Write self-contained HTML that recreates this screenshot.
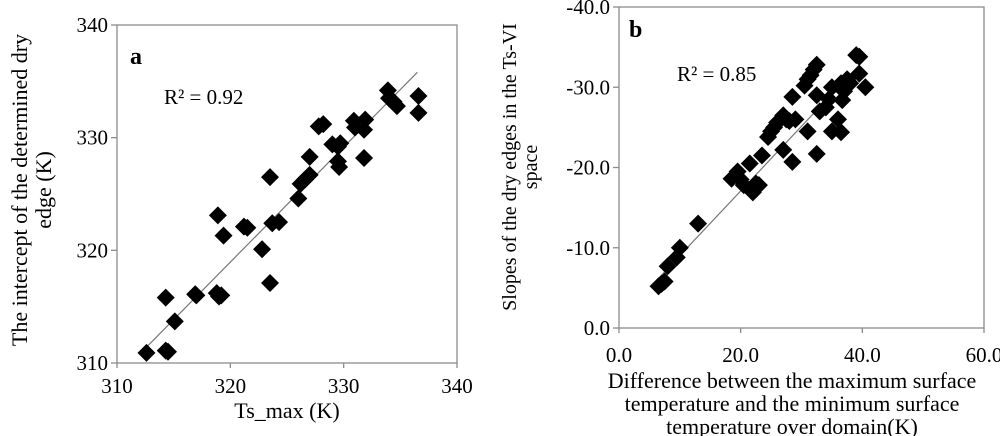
<!DOCTYPE html>
<html><head><meta charset="utf-8"><style>
body{margin:0;background:#fff}
svg{display:block;font-family:"Liberation Serif",serif}
</style></head><body>
<svg id="chart" width="1000" height="436" viewBox="0 0 1000 436" xmlns="http://www.w3.org/2000/svg">
<g id="pa"></g>
<g id="pb"></g>
</svg>
<script>
const aX=[312.6,314.3,314.5,314.3,315.1,316.9,317,318.8,319,319.2,318.9,319.4,321.2,321.5,322.8,323.5,323.5,323.7,324.3,326,326.2,326.6,327,327,327.8,328.2,329,329.5,329.7,329.5,329.6,330.9,331,331.9,331.8,331.8,333.9,334,334.4,334.7,336.6,336.6];
const aY=[310.9,311.1,311,315.8,313.7,316.1,316,316.2,315.9,316,323.1,321.3,322.1,322,320.1,326.5,317.1,322.4,322.5,324.6,325.9,326.3,326.7,328.3,331,331.2,329.4,329.2,329.5,327.9,327.4,331.5,330.9,331.6,330.7,328.2,334.2,333.5,333.2,332.8,333.7,332.2];
const aTrendX=[312.6,336.5];
const aTrendY=[311.4,335.8];
const aXTicks=[310,320,330,340];
const aYTicks=[310,320,330,340];
const bX=[6.5,7,7.5,8,9.5,10,13,18.5,19.5,20,20.5,21.5,22,22.5,23,23.5,24.5,25,25.5,26,27,27.5,28,28.5,27,28.5,29,30.5,31,31.5,32,32.5,32.5,31,32.5,33,34,34.5,35,35,36,36.5,36.5,37,37.5,38,39,39.5,39.5,40.5,36.7];
const bY=[-5.2,-5.5,-5.8,-7.7,-8.8,-10,-13,-18.6,-19.5,-18.5,-17.8,-20.5,-16.9,-18,-17.8,-21.5,-23.8,-24.5,-25,-25.6,-26.5,-26,-25.8,-28.8,-22.2,-20.7,-26,-30.2,-31,-31.5,-32.2,-32.8,-29,-24.5,-21.7,-27,-27.5,-28.5,-30,-24.5,-26,-24.4,-30.5,-29.5,-31,-30.5,-34,-33.8,-31.7,-30,-28.4];
const bTrendX=[6.25,40.5];
const bTrendY=[-6.0,-33.6];
const bXTicks=[0,20,40,60];
const bXLabels=["0.0","20.0","40.0","60.0"];
const bYTicks=[0,-10,-20,-30,-40];
const bYLabels=["0.0","-10.0","-20.0","-30.0","-40.0"];

const NS="http://www.w3.org/2000/svg";
function mk(p,t,a){const e=document.createElementNS(NS,t);for(const k in a)e.setAttribute(k,a[k]);p.appendChild(e);return e;}
function txt(p,x,y,s,size,anchor,extra){const e=mk(p,'text',Object.assign({x:x,y:y,'font-size':size,'text-anchor':anchor||'middle',fill:'#000'},extra||{}));e.textContent=s;return e;}

function panel(g,o){
  const sx=v=>o.x0+(v-o.xmin)/(o.xmax-o.xmin)*(o.x1-o.x0);
  const sy=v=>o.y0+(v-o.ymin)/(o.ymax-o.ymin)*(o.y1-o.y0);
  const box=mk(g,'rect',{x:o.x0,y:o.y1,width:o.x1-o.x0,height:o.y0-o.y1,fill:'none',stroke:'#8c8c8c','stroke-width':1.3});
  
  
  o.xt.forEach((v,i)=>{
    const l=mk(g,'line',{x1:sx(v),x2:sx(v),y1:o.y0,y2:o.y0+5,stroke:'#8c8c8c','stroke-width':1.3});
    
    
    const t=txt(g,sx(v),o.y0+o.xly,o.xl[i],21,'middle');
    
    
  });
  o.yt.forEach((v,i)=>{
    const l=mk(g,'line',{x1:o.x0-6,x2:o.x0,y1:sy(v),y2:sy(v),stroke:'#8c8c8c','stroke-width':1.3});
    
    
    const t=txt(g,o.x0-9,sy(v)+7,o.yl[i],21,'end');
    
    
  });
  const tl=mk(g,'line',{x1:sx(o.tx[0]),y1:sy(o.ty[0]),x2:sx(o.tx[1]),y2:sy(o.ty[1]),stroke:'#777','stroke-width':1.2});
  
  
  o.px.forEach((v,i)=>{
    const cx=sx(v),cy=sy(o.py[i]),r=9;
    const d=mk(g,'polygon',{points:`${cx},${cy-r} ${cx+r},${cy} ${cx},${cy+r} ${cx-r},${cy}`,fill:'#000'});
    
    
  });
}
const pa=document.getElementById('pa'),pb=document.getElementById('pb');
panel(pa,{x0:117,x1:457,y0:363,y1:25,xmin:310,xmax:340,ymin:310,ymax:340,xly:30,xt:aXTicks,xl:aXTicks.map(String),yt:aYTicks,yl:aYTicks.map(String),px:aX,py:aY,tx:aTrendX,ty:aTrendY});
panel(pb,{x0:619,x1:984,y0:328,y1:7,xmin:0,xmax:60,ymin:0,ymax:-40,xly:34,xt:bXTicks,xl:bXLabels,yt:bYTicks,yl:bYLabels,px:bX,py:bY,tx:bTrendX,ty:bTrendY});

let t;
t=txt(pa,130,64,'a',24,'start',{'font-weight':'bold'});
t=txt(pa,164,104,'R² = 0.92',21,'start');
t=txt(pa,287,418,'Ts_max (K)',22,'middle');
t=txt(pa,0,0,'The intercept of the determined dry',22,'middle',{transform:'translate(27,190) rotate(-90)'});
t=txt(pa,0,0,'edge (K)',22,'middle',{transform:'translate(51,190) rotate(-90)'});

t=txt(pb,629,37,'b',24,'start',{'font-weight':'bold'});
t=txt(pb,677,81,'R² = 0.85',21,'start');
t=txt(pb,0,0,'Slopes of the dry edges in the Ts-VI',20,'middle',{transform:'translate(516,167) rotate(-90)'});
t=txt(pb,0,0,'space',20,'middle',{transform:'translate(537,167) rotate(-90)'});
t=txt(pb,792,388,'Difference between the maximum surface',22,'middle');
t=txt(pb,792,411,'temperature and the minimum surface',22,'middle');
t=txt(pb,792,434,'temperature over domain(K)',22,'middle');
</script>
</body></html>
